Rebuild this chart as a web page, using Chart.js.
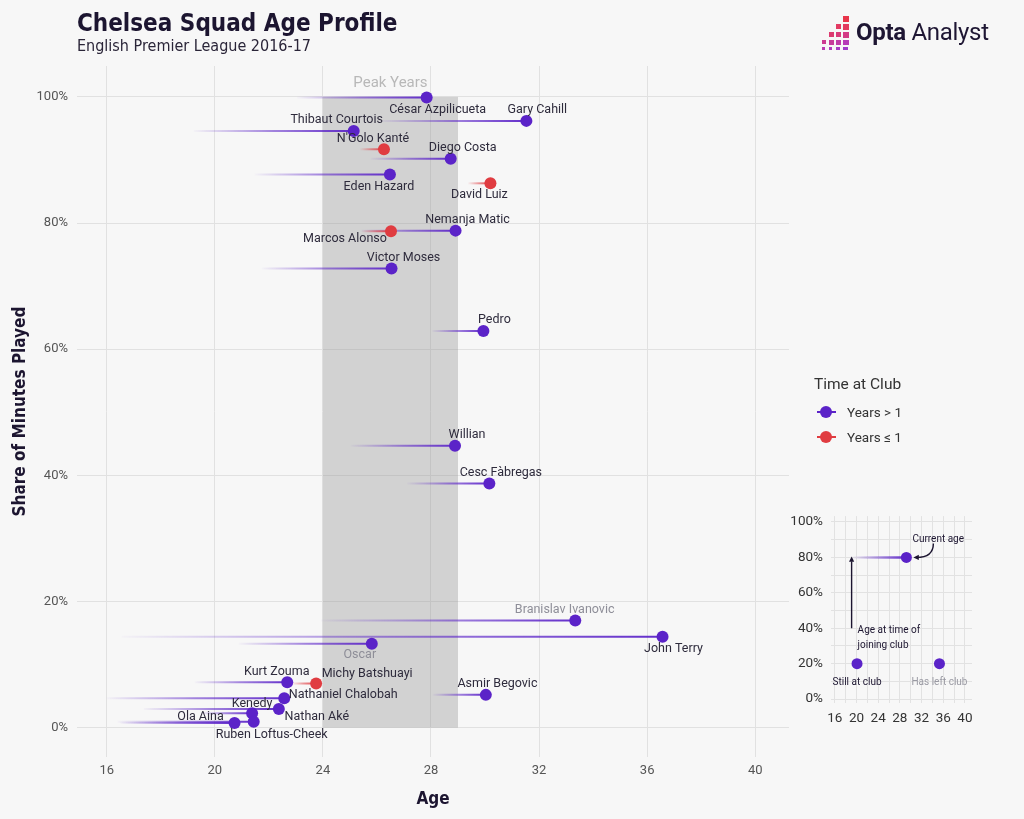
<!DOCTYPE html>
<html><head><meta charset="utf-8">
<script src="https://cdn.jsdelivr.net/npm/chart.js@4.4.1/dist/chart.umd.min.js"></script>
<style>
html,body{margin:0;padding:0;background:#f7f7f7;}
body{width:1024px;height:819px;position:relative;overflow:hidden;font-family:Roboto,'Noto Sans',sans-serif;color:#1c1530;}
canvas{position:absolute;}
#main{left:0;top:0;}
#inset{left:760px;top:500px;}
.narrow{font-family:'Liberation Sans Narrow','DejaVu Sans Condensed','Noto Sans',sans-serif;}
#title{position:absolute;left:77px;top:9px;font-weight:bold;font-size:24px;line-height:28px;color:#1c1530;white-space:nowrap;}
#subtitle{position:absolute;left:77px;top:36px;font-size:16px;line-height:20px;color:#2a2538;white-space:nowrap;}
#logo{position:absolute;left:818px;top:14px;width:180px;height:36px;}
#logo .sq{position:absolute;width:5px;height:5px;}
#logo .txt{position:absolute;left:38px;top:3px;font-size:24px;line-height:30px;white-space:nowrap;color:#1e1633;letter-spacing:-0.3px;}
#legend{position:absolute;left:814px;top:374px;width:200px;height:80px;}
#legend .lt{position:absolute;left:0;top:0;font-size:15.5px;line-height:20px;color:#333;}
#legend .it{position:absolute;left:33px;font-size:13.5px;line-height:18px;color:#333;}
#legend svg{position:absolute;left:0;}
</style></head>
<body>
<canvas id="main" width="1024" height="819"></canvas>
<canvas id="inset" width="230" height="240"></canvas>
<div id="title" class="narrow">Chelsea Squad Age Profile</div>
<div id="subtitle" class="narrow">English Premier League 2016-17</div>
<div id="logo">
  <div class="sq" style="left:25px;top:2px;background:#e8354a;height:6px;width:6px"></div>
  <div class="sq" style="left:25px;top:10px;background:#e23a5e;width:6px;height:6px"></div>
  <div class="sq" style="left:18px;top:10px;background:#e33a62;width:5px"></div>
  <div class="sq" style="left:25px;top:18px;background:#d43b86;width:6px;height:6px"></div>
  <div class="sq" style="left:18px;top:18px;background:#d83b7a"></div>
  <div class="sq" style="left:11px;top:18px;background:#dc3a70"></div>
  <div class="sq" style="left:25px;top:26px;background:#b63cb8;width:6px;height:5px"></div>
  <div class="sq" style="left:18px;top:26px;background:#bf3ca8"></div>
  <div class="sq" style="left:11px;top:26px;background:#c73c9a"></div>
  <div class="sq" style="left:4px;top:26px;background:#cc3b90;width:4px;height:4px"></div>
  <div class="sq" style="left:25px;top:33px;background:#a13ccb;width:5px;height:3px"></div>
  <div class="sq" style="left:18px;top:33px;background:#a83cc3;width:4px;height:3px"></div>
  <div class="sq" style="left:11px;top:33px;background:#b03cbb;width:3px;height:3px"></div>
  <div class="sq" style="left:4px;top:33px;background:#b83cb0;width:3px;height:3px"></div>
  <div class="txt"><b>Opta</b> Analyst</div>
</div>
<div id="legend">
  <div class="lt">Time at Club</div>
  <svg style="top:30px" width="24" height="16"><line x1="3" y1="8" x2="22" y2="8" stroke="#5b23c8" stroke-width="2"/><circle cx="12" cy="8" r="6" fill="#5b23c8"/></svg>
  <div class="it" style="top:29px">Years &gt; 1</div>
  <svg style="top:55px" width="24" height="16"><line x1="3" y1="8" x2="22" y2="8" stroke="#e03c41" stroke-width="2"/><circle cx="12" cy="8" r="6" fill="#e03c41"/></svg>
  <div class="it" style="top:54px">Years ≤ 1</div>
</div>
<script>
// ---------------- DATA ----------------
const players = ["César Azpilicueta","Gary Cahill","Thibaut Courtois","N'Golo Kanté","Diego Costa","Eden Hazard","David Luiz","Nemanja Matic","Marcos Alonso","Victor Moses","Pedro","Willian","Cesc Fàbregas","Branislav Ivanovic","John Terry","Oscar","Kurt Zouma","Michy Batshuayi","Nathaniel Chalobah","Nathan Aké","Kenedy","Ola Aina","Ruben Loftus-Cheek","Asmir Begovic"];
const currentAge = [27.84,31.53,25.14,26.26,28.73,26.48,30.20,28.91,26.52,26.54,29.94,28.89,30.16,33.34,36.57,25.81,22.68,23.75,22.57,22.37,21.38,20.73,21.44,30.03];
const joinAge    = [23.04,26.07,19.22,25.37,25.77,21.48,29.37,25.40,25.44,21.74,28.04,25.03,27.11,23.93,16.56,20.89,19.26,22.85,16.00,17.37,19.50,16.50,16.40,28.06];
const minutesShare = [99.9,96.2,94.6,91.7,90.2,87.7,86.3,78.8,78.7,72.8,62.9,44.7,38.7,17.0,14.4,13.3,7.2,7.0,4.65,2.97,2.27,0.75,0.95,5.2];
const yearsAtClub = [">1",">1",">1","<=1",">1",">1","<=1",">1","<=1",">1",">1",">1",">1",">1",">1",">1",">1","<=1",">1",">1",">1",">1",">1",">1"];
const leftClub = ["no","no","no","no","no","no","no","no","no","no","no","no","no","yes","no","yes","no","no","no","no","no","no","no","no"];
const xTicks = [16,20,24,28,32,36,40];
const yTicks = [0,20,40,60,80,100];
const peakYears = [24,29];
// key (inset) data
const keyAge = [29.2,20.1,35.3];
const keyShare = [80,20,20];
const keyJoinAge = [19.1];
const keyCaptions = ["Still at club","Has left club"];
const insetXTicks = [16,18,20,22,24,26,28,30,32,34,36,38,40];
const insetYTicks = [0,10,20,30,40,50,60,70,80,90,100];

// ---------------- LAYOUT (label nudges in px, not data) ----------------
const labelNudge = [[11,12],[11,-11],[-17,-11],[-11,-10],[12,-11],[-11,12],[-11,12],[12,-11],[-46,8],[12,-11],[11,-11],[12,-11],[11.5,-11],[-10.6,-11],[11,12],[-12,11],[-10.5,-10],[51,-10],[59,-3],[38,8],[0,-9.5],[-34,-6],[18,13],[11.6,-11]];

const PURPLE = [91,35,200], RED = [224,60,65];
const rgba = (c,a)=>`rgba(${c[0]},${c[1]},${c[2]},${a})`;
Chart.defaults.font.family = "Roboto, 'Noto Sans', sans-serif";
const NARROW = "'Liberation Sans Narrow','DejaVu Sans Condensed','Noto Sans',sans-serif";

const idx = players.map((_,i)=>i);
const oldIdx = idx.filter(i=>yearsAtClub[i]===">1");
const newIdx = idx.filter(i=>yearsAtClub[i]==="<=1");

const mainDecor = {
  id:'mainDecor',
  beforeDatasetsDraw(chart){
    const {ctx, scales:{x,y}} = chart;
    ctx.save();
    const x0=x.getPixelForValue(peakYears[0]), x1=x.getPixelForValue(peakYears[1]);
    const y0=y.getPixelForValue(100), y1=y.getPixelForValue(0);
    ctx.fillStyle='rgba(150,150,150,0.38)';
    ctx.fillRect(x0,y0,x1-x0,y1-y0);
    ctx.fillStyle='#b8b8b8'; ctx.font='15px Roboto'; ctx.textAlign='center'; ctx.textBaseline='middle';
    ctx.fillText('Peak Years',(x0+x1)/2,y0-14);
    idx.forEach(i=>{
      const xa=x.getPixelForValue(joinAge[i]), xb=x.getPixelForValue(currentAge[i]), yy=y.getPixelForValue(minutesShare[i]);
      const c = yearsAtClub[i]==="<=1"?RED:PURPLE;
      const g=ctx.createLinearGradient(xa,0,xb,0);
      g.addColorStop(0,rgba(c,0.02)); g.addColorStop(0.5,rgba(c,0.55)); g.addColorStop(1,rgba(c,0.95));
      ctx.strokeStyle=g; ctx.lineWidth=2;
      ctx.beginPath(); ctx.moveTo(xa,yy); ctx.lineTo(xb,yy); ctx.stroke();
    });
    ctx.restore();
  },
  afterDatasetsDraw(chart){
    const {ctx, scales:{x,y}} = chart;
    ctx.save();
    ctx.font='12.5px Roboto'; ctx.textAlign='center'; ctx.textBaseline='middle';
    idx.forEach(i=>{
      const px=x.getPixelForValue(currentAge[i]), py=y.getPixelForValue(minutesShare[i]);
      ctx.fillStyle = leftClub[i]==="yes" ? '#8e8e98' : '#2e2b3c';
      ctx.fillText(players[i], px+labelNudge[i][0], py+labelNudge[i][1]);
    });
    ctx.restore();
  }
};

new Chart(document.getElementById('main'),{
  type:'scatter',
  data:{datasets:[
    {label:'Years > 1',data:oldIdx.map(i=>({x:currentAge[i],y:minutesShare[i]})),backgroundColor:rgba(PURPLE,1),pointRadius:6,pointHoverRadius:6,borderWidth:0},
    {label:'Years ≤ 1',data:newIdx.map(i=>({x:currentAge[i],y:minutesShare[i]})),backgroundColor:rgba(RED,1),pointRadius:6,pointHoverRadius:6,borderWidth:0}
  ]},
  options:{
    responsive:false, animation:false,
    layout:{padding:{left:0,top:66,right:235,bottom:0}},
    plugins:{legend:{display:false},tooltip:{enabled:false}},
    scales:{
      x:{type:'linear',min:14.9,max:41.25,
        afterBuildTicks:s=>{s.ticks=xTicks.map(v=>({value:v}));},
        afterFit:s=>{s.height=62;},
        grid:{color:'#e1e1e1',lineWidth:1,drawTicks:false},
        border:{display:false},
        ticks:{padding:6,color:'#555',font:{size:13},callback:v=>String(v)},
        title:{display:true,text:'Age',color:'#1c1530',font:{family:NARROW,size:17,weight:'bold'},padding:{top:0,bottom:9}}
      },
      y:{type:'linear',min:-4.65,max:104.9,
        afterBuildTicks:s=>{s.ticks=yTicks.map(v=>({value:v}));},
        afterFit:s=>{s.width=77;},
        grid:{color:'#e1e1e1',lineWidth:1,drawTicks:false},
        border:{display:false},
        ticks:{padding:9,color:'#555',font:{size:13},callback:v=>v+'%'},
        title:{display:true,text:'Share of Minutes Played',color:'#1c1530',font:{family:NARROW,size:17,weight:'bold'},padding:{top:10,bottom:0}}
      }
    }
  },
  plugins:[mainDecor]
});

// ---------------- INSET KEY ----------------
function arrowHead(ctx,x,y,ang,size){
  ctx.beginPath();
  ctx.moveTo(x,y);
  ctx.lineTo(x-size*Math.cos(ang-0.45),y-size*Math.sin(ang-0.45));
  ctx.lineTo(x-size*Math.cos(ang+0.45),y-size*Math.sin(ang+0.45));
  ctx.closePath(); ctx.fill();
}
const insetDecor = {
  id:'insetDecor',
  beforeDatasetsDraw(chart){
    const {ctx, scales:{x,y}} = chart;
    const xa=x.getPixelForValue(keyJoinAge[0]), xb=x.getPixelForValue(keyAge[0]), yy=y.getPixelForValue(keyShare[0]);
    ctx.save();
    const g=ctx.createLinearGradient(xa,0,xb,0);
    g.addColorStop(0,rgba(PURPLE,0)); g.addColorStop(1,rgba(PURPLE,0.95));
    ctx.strokeStyle=g; ctx.lineWidth=2.5;
    ctx.beginPath(); ctx.moveTo(xa,yy); ctx.lineTo(xb,yy); ctx.stroke();
    ctx.restore();
  },
  afterDatasetsDraw(chart){
    const {ctx, scales:{x,y}} = chart;
    ctx.save();
    ctx.strokeStyle='#1c1530'; ctx.fillStyle='#1c1530'; ctx.lineWidth=1.4;
    const ax=x.getPixelForValue(keyJoinAge[0]);
    const ay0=y.getPixelForValue(40), ay1=y.getPixelForValue(keyShare[0]);
    ctx.beginPath(); ctx.moveTo(ax,ay0); ctx.lineTo(ax,ay1+4); ctx.stroke();
    arrowHead(ctx,ax,ay1-1,-Math.PI/2,6);
    const dx=x.getPixelForValue(keyAge[0]), dy=y.getPixelForValue(keyShare[0]);
    const sx=dx+27, sy=dy-14;
    ctx.beginPath(); ctx.moveTo(sx,sy); ctx.quadraticCurveTo(sx,dy,dx+10,dy); ctx.stroke();
    arrowHead(ctx,dx+7,dy,Math.PI,6);
    ctx.font='10px Roboto'; ctx.textBaseline='middle';
    ctx.textAlign='left';
    ctx.fillText('Current age',dx+6,dy-18);
    ctx.fillText('Age at time of',ax+6,ay0+2);
    ctx.fillText('joining club',ax+6,ay0+17);
    ctx.textAlign='center';
    ctx.fillText(keyCaptions[0],x.getPixelForValue(keyAge[1]),y.getPixelForValue(keyShare[1])+19);
    ctx.fillStyle='#9a9aa3';
    ctx.fillText(keyCaptions[1],x.getPixelForValue(keyAge[2]),y.getPixelForValue(keyShare[2])+19);
    ctx.restore();
  }
};
new Chart(document.getElementById('inset'),{
  type:'scatter',
  data:{datasets:[{data:keyAge.map((a,i)=>({x:a,y:keyShare[i]})),backgroundColor:rgba(PURPLE,1),pointRadius:5.5,pointHoverRadius:5.5,borderWidth:0}]},
  options:{
    responsive:false, animation:false,
    layout:{padding:{left:0,top:10,right:18,bottom:0}},
    plugins:{legend:{display:false},tooltip:{enabled:false}},
    scales:{
      x:{type:'linear',min:15.3,max:41.3,
        afterBuildTicks:s=>{s.ticks=insetXTicks.map(v=>({value:v}));},
        afterFit:s=>{s.height=37;},
        grid:{color:'#e2e2e2',lineWidth:1,drawTicks:false},
        border:{display:false},
        ticks:{padding:8,color:'#333',font:{size:13.5},autoSkip:false,maxRotation:0,callback:v=>(v%4===0?String(v):'')}
      },
      y:{type:'linear',min:-2.2,max:103.3,
        afterBuildTicks:s=>{s.ticks=insetYTicks.map(v=>({value:v}));},
        afterFit:s=>{s.width=71;},
        grid:{color:'#e2e2e2',lineWidth:1,drawTicks:false},
        border:{display:false},
        ticks:{padding:8,color:'#333',font:{size:13.5},autoSkip:false,callback:v=>(v%20===0?v+'%':'')}
      }
    }
  },
  plugins:[insetDecor]
});
</script>
</body></html>
